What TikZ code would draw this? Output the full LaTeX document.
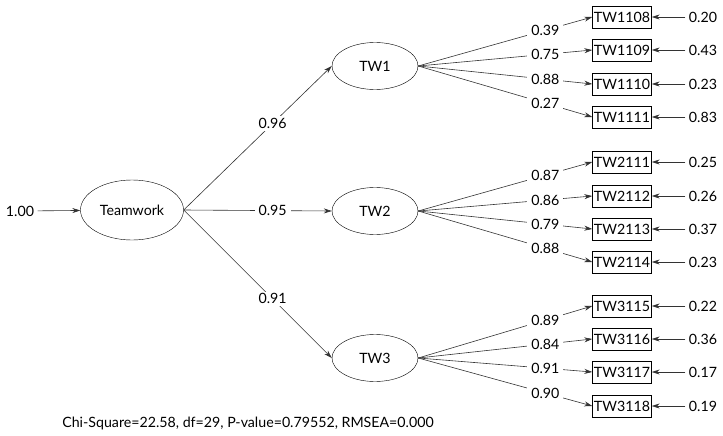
\documentclass[tikz,border=0pt]{standalone}
\usepackage{fontspec}
\setmainfont{Lato}
\usetikzlibrary{arrows.meta, positioning, shapes.geometric}

\begin{document}
\begin{tikzpicture}[x=1pt, y=-1pt,
  latent/.style={draw, ellipse, minimum width=86pt, minimum height=47pt, inner sep=0pt},
  obs/.style={draw, rectangle, minimum width=59pt, minimum height=22pt, inner sep=1pt},
  coef/.style={fill=white, inner xsep=4pt, inner ysep=2pt},
  link/.style={-{Stealth[length=8pt,width=5pt]}, line width=0.6pt, draw=black!80},
  font=\fontsize{14.2}{16}\selectfont,
]
  \useasboundingbox (0,0) rectangle (723,436);

  % second-order factor
  \node[latent, minimum width=103pt, minimum height=60pt] (teamwork) at (132,210) {Teamwork};
  \node (var0) at (20,211) {1.00};
  \draw[link] (var0) -- (teamwork);

  % first-order factors
  \foreach \f/\fy/\g in {1/66/0.96, 2/211/0.95, 3/358/0.91} {
    \node[latent] (tw\f) at (375,\fy) {TW\f};
    \draw[link] (teamwork.east) -- node[coef, pos=0.6] {\g} (tw\f.west);
  }

  % indicators
  \foreach \f/\id/\y/\l/\e in {
      1/1108/17/0.39/0.20, 1/1109/50/0.75/0.43, 1/1110/84/0.88/0.23, 1/1111/117/0.27/0.83,
      2/2111/162/0.87/0.25, 2/2112/196/0.86/0.26, 2/2113/229/0.79/0.37, 2/2114/262/0.88/0.23,
      3/3115/306/0.89/0.22, 3/3116/339/0.84/0.36, 3/3117/372/0.91/0.17, 3/3118/406/0.90/0.19} {
    \node[obs] (item\id) at (622,\y) {TW\id};
    \node (err\id) at (703,\y) {\e};
    \draw[link] (tw\f.east) -- node[coef, pos=0.73] {\l} (item\id.west);
    \draw[link] (err\id) -- (item\id);
  }

  \node (fit) at (248,423) {Chi-Square=22.58, df=29, P-value=0.79552, RMSEA=0.000};
\end{tikzpicture}
\end{document}
